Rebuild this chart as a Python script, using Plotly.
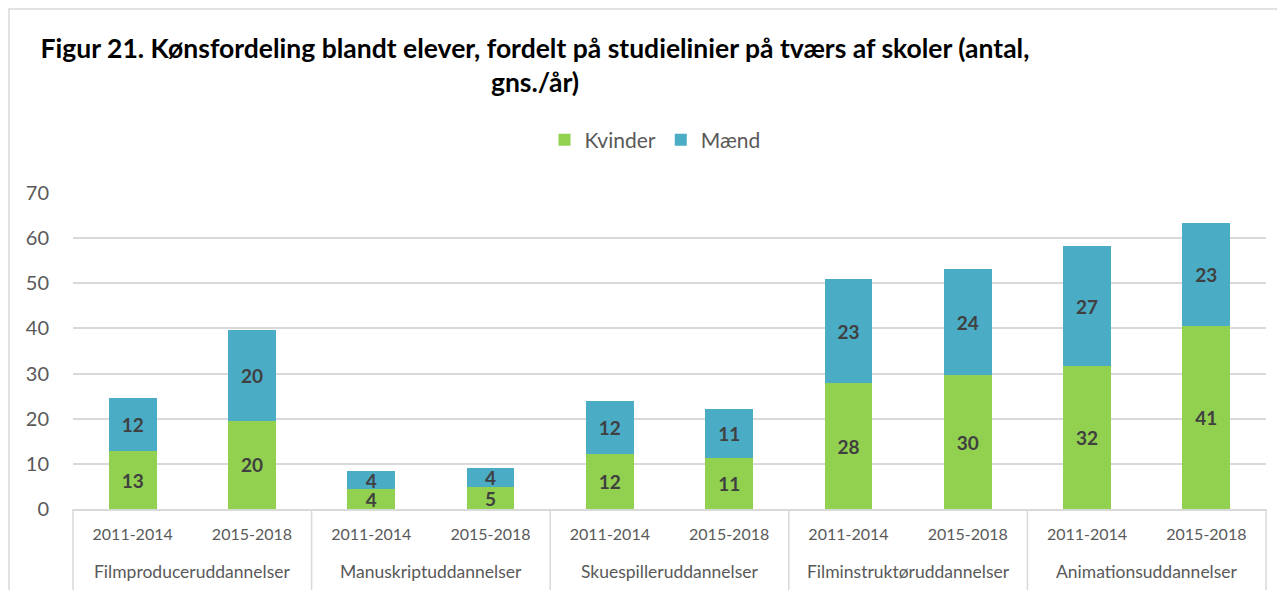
import plotly.graph_objects as go

groups = ["Filmproduceruddannelser", "Manuskriptuddannelser", "Skuespilleruddannelser",
          "Filminstruktøruddannelser", "Animationsuddannelser"]
periods = ["2011-2014", "2015-2018"]
kvinder = [12.8, 19.6, 4.4, 4.8, 12.1, 11.3, 27.9, 29.6, 31.6, 40.6]
maend = [11.7, 20.0, 4.0, 4.2, 11.9, 10.8, 23.0, 23.6, 26.6, 22.8]
y_ticks = [0, 10, 20, 30, 40, 50, 60, 70]

x_periods = [p for _ in groups for p in periods]
x_pos = list(range(len(x_periods)))
n_per = len(periods)

# page has an 8px body margin; figure is sized/positioned to compensate
OFF = 8
W, H = 1285 - OFF, 590 - OFF
L, R, T, B = 65, 19, 185, 81
pw = W - L - R
ph = H - T - B


def px_x(x):
    return (x - OFF - L) / pw


def px_y(y):
    return (H - B - (y - OFF)) / ph


font_fam = "Lato, 'Open Sans', sans-serif"
lbl = dict(size=19, color="#404040", family=font_fam, weight="bold")

fig = go.Figure()
fig.add_trace(go.Bar(
    x=x_pos, y=kvinder, name="Kvinder",
    marker=dict(color="#92D050", line=dict(width=0)),
    texttemplate="%{y:.0f}", textposition="inside", insidetextanchor="middle",
    textangle=0, textfont=lbl, width=0.4,
))
fig.add_trace(go.Bar(
    x=x_pos, y=maend, name="Mænd",
    marker=dict(color="#4BACC6", line=dict(width=0)),
    texttemplate="%{y:.0f}", textposition="inside", insidetextanchor="middle",
    textangle=0, textfont=lbl, width=0.4,
))

shapes = []
n_cat = len(x_periods)
for i in range(len(groups) + 1):
    xp = (i * n_per) / n_cat
    shapes.append(dict(type="line", xref="paper", yref="paper",
                       x0=xp, x1=xp, y0=0, y1=px_y(600),
                       line=dict(color="#D9D9D9", width=1.5)))
shapes.append(dict(
    type="rect", xref="paper", yref="paper",
    x0=px_x(9), x1=px_x(1300), y0=px_y(610), y1=px_y(9),
    line=dict(color="#D9D9D9", width=1.5), fillcolor="rgba(0,0,0,0)", layer="below",
))

annotations = []
for i, g in enumerate(groups):
    xp = (i * n_per + n_per / 2) / n_cat
    annotations.append(dict(text=g, xref="paper", yref="paper", x=xp, y=px_y(571),
                            xanchor="center", yanchor="middle", showarrow=False,
                            font=dict(size=17.5, color="#595959", family=font_fam)))

fig.update_layout(
    width=W, height=H,
    margin=dict(l=L, r=R, t=T, b=B, autoexpand=False),
    barmode="stack",
    plot_bgcolor="white", paper_bgcolor="white",
    font=dict(family=font_fam, color="#595959"),
    uniformtext=dict(minsize=18, mode="show"),
    title=dict(
        text="<b>Figur 21. Kønsfordeling blandt elever, fordelt på studielinier på tværs af skoler (antal,<br>gns./år)</b>",
        x=(535 - OFF) / W, xanchor="center", xref="container",
        y=1 - (58 - OFF) / H, yanchor="top", yref="container",
        font=dict(size=26.5, color="#000000", family=font_fam),
    ),
    legend=dict(
        orientation="h", x=px_x(655), xanchor="center", y=px_y(140), yanchor="middle",
        font=dict(size=21, color="#595959"), itemwidth=30, traceorder="normal",
    ),
    showlegend=True,
    xaxis=dict(
        range=[-0.5, n_cat - 0.5], tickvals=x_pos, ticktext=x_periods,
        showline=True, linecolor="#D9D9D9", linewidth=1.5,
        tickfont=dict(size=16, color="#595959"),
        showgrid=False, ticks="", zeroline=False,
        ticklabelstandoff=10,
    ),
    yaxis=dict(
        range=[0, 70], tickvals=y_ticks, showgrid=True, gridcolor="#D9D9D9", gridwidth=1.5,
        zeroline=False, showline=False,
        tickfont=dict(size=20, color="#595959"),
        ticklabelstandoff=23,
    ),
    shapes=shapes,
    annotations=annotations,
)

fig.write_html("out.html")
